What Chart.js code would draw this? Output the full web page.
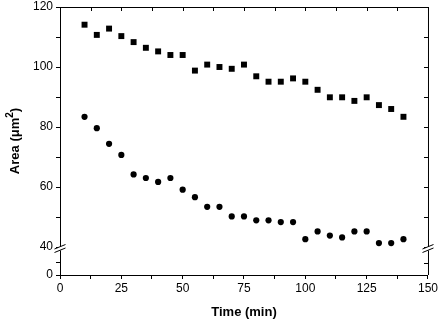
<!DOCTYPE html>
<html>
<head>
<meta charset="utf-8">
<script src="https://cdn.jsdelivr.net/npm/chart.js@4.4.2/dist/chart.umd.min.js"></script>
<style>
  html, body { margin: 0; padding: 0; background: #fff; }
  #wrap { width: 442px; height: 322px; }
</style>
</head>
<body>
<div id="wrap"><canvas id="chart"></canvas></div>
<script>
const times = [10, 15, 20, 25, 30, 35, 40, 45, 50, 55, 60, 65, 70, 75, 80, 85, 90, 95, 100, 105, 110, 115, 120, 125, 130, 135, 140];
const squareArea = [114.1, 110.7, 112.8, 110.3, 108.3, 106.4, 105.2, 104.0, 104.0, 98.8, 100.8, 100.0, 99.4, 100.8, 96.9, 95.1, 95.1, 96.2, 95.1, 92.4, 89.9, 89.9, 88.7, 89.9, 87.3, 86.0, 83.4];
const circleArea = [83.4, 79.6, 74.4, 70.7, 64.2, 63.0, 61.7, 63.0, 59.1, 56.6, 53.4, 53.4, 50.2, 50.2, 48.9, 48.9, 48.3, 48.3, 42.6, 45.2, 43.8, 43.2, 45.2, 45.2, 41.3, 41.3, 42.6];

const xTickValues = [0, 12.5, 25, 37.5, 50, 62.5, 75, 87.5, 100, 112.5, 125, 137.5, 150];
const xLabels = [0, 25, 50, 75, 100, 125, 150];
const yTickValues = [40, 50, 60, 70, 80, 90, 100, 110, 120];
const yLabels = [40, 60, 80, 100, 120];
const yLowTickValues = [0, 10];
const yLowLabels = [0];

const FONT = "'Liberation Sans', Arial, sans-serif";
const tickFont = { family: FONT, size: 12, lineHeight: 1 };

const setTicks = (values) => (scale) => {
  scale.ticks = values.map(v => ({ value: v }));
};
const showOnly = (labels) => (v) => labels.includes(v) ? String(v) : '';

const axisGrid = {
  drawOnChartArea: false,
  tickLength: 4,
  color: '#000',
  tickColor: '#000'
};

const framePlugin = {
  id: 'frame',
  afterDraw(chart) {
    const { ctx, chartArea: a, scales } = chart;
    ctx.save();
    ctx.strokeStyle = '#000';
    ctx.lineWidth = 1;
    // top and right border
    ctx.beginPath();
    ctx.moveTo(a.left, a.top + 0.5);
    ctx.lineTo(a.right + 0.5, a.top + 0.5);
    ctx.lineTo(a.right + 0.5, a.bottom);
    ctx.stroke();
    // inward ticks on the top and right
    ctx.beginPath();
    xTickValues.forEach(v => {
      const px = Math.round(scales.x.getPixelForValue(v)) + 0.5;
      ctx.moveTo(px, a.top);
      ctx.lineTo(px, a.top + 4);
    });
    yTickValues.forEach(v => {
      const py = Math.round(scales.y.getPixelForValue(v)) + 0.5;
      ctx.moveTo(a.right, py);
      ctx.lineTo(a.right - 4, py);
    });
    yLowTickValues.forEach(v => {
      const py = Math.round(scales.y2.getPixelForValue(v)) + 0.5;
      ctx.moveTo(a.right, py);
      ctx.lineTo(a.right - 4, py);
    });
    ctx.stroke();
    // axis break marks
    const yb = scales.y.bottom + 1.5;
    [a.left, a.right].forEach(x => {
      ctx.fillStyle = '#fff';
      ctx.fillRect(x - 2, yb - 2, 4, 4);
      ctx.beginPath();
      ctx.moveTo(x - 5.5, yb + 0.5);
      ctx.lineTo(x + 5.5, yb - 4);
      ctx.moveTo(x - 5.5, yb + 4);
      ctx.lineTo(x + 5.5, yb - 0.5);
      ctx.stroke();
    });
    // y axis title with superscript
    ctx.fillStyle = '#000';
    ctx.translate(15, (a.top + a.bottom) / 2);
    ctx.rotate(-Math.PI / 2);
    ctx.textBaseline = 'middle';
    const main = 'Area (\u03bcm';
    ctx.font = 'bold 13px ' + FONT;
    const wMain = ctx.measureText(main).width;
    ctx.font = 'bold 10px ' + FONT;
    const wSup = ctx.measureText('2').width;
    ctx.font = 'bold 13px ' + FONT;
    const wEnd = ctx.measureText(')').width;
    let x0 = -(wMain + wSup + wEnd) / 2;
    ctx.textAlign = 'left';
    ctx.fillText(main, x0, 0);
    ctx.font = 'bold 10px ' + FONT;
    ctx.fillText('2', x0 + wMain, -5);
    ctx.font = 'bold 13px ' + FONT;
    ctx.fillText(')', x0 + wMain + wSup, 0);
    ctx.restore();
  }
};

new Chart(document.getElementById('chart'), {
  type: 'scatter',
  data: {
    datasets: [{
      label: 'squares',
      data: times.map((t, i) => ({ x: t, y: squareArea[i] })),
      pointStyle: 'rect',
      pointRadius: 4.2,
      backgroundColor: '#000',
      borderWidth: 0,
      yAxisID: 'y'
    }, {
      label: 'circles',
      data: times.map((t, i) => ({ x: t, y: circleArea[i] })),
      pointStyle: 'circle',
      pointRadius: 3.1,
      backgroundColor: '#000',
      borderWidth: 0,
      yAxisID: 'y'
    }]
  },
  options: {
    responsive: true,
    maintainAspectRatio: false,
    animation: false,
    layout: {
      padding: { left: 2, right: 13, top: 7, bottom: 0 }
    },
    plugins: {
      legend: { display: false },
      tooltip: { enabled: false }
    },
    scales: {
      x: {
        type: 'linear',
        min: 0,
        max: 150,
        afterBuildTicks: setTicks(xTickValues),
        afterFit: (s) => { s.height = 47; },
        ticks: { autoSkip: false, maxRotation: 0, padding: 4, color: '#000', font: tickFont, callback: showOnly(xLabels) },
        grid: axisGrid,
        border: { color: '#000', width: 1 },
        title: {
          display: true,
          text: 'Time (min)',
          color: '#000',
          font: { family: FONT, size: 13, weight: 'bold' },
          padding: { top: 4, bottom: 2 }
        }
      },
      y: {
        type: 'linear',
        position: 'left',
        stack: 'area',
        stackWeight: 240,
        weight: 2,
        min: 40,
        max: 120,
        afterBuildTicks: setTicks(yTickValues),
        afterFit: (s) => { s.width = 58; s.paddingTop = 0; s.paddingBottom = 0; },
        ticks: { autoSkip: false, padding: 3, color: '#000', font: tickFont, callback: showOnly(yLabels) },
        grid: axisGrid,
        border: { color: '#000', width: 1 }
      },
      y2: {
        type: 'linear',
        position: 'left',
        stack: 'area',
        stackWeight: 28,
        weight: 1,
        min: 0,
        max: 23,
        afterBuildTicks: setTicks(yLowTickValues),
        afterFit: (s) => { s.width = 58; s.paddingTop = 0; s.paddingBottom = 0; },
        ticks: { autoSkip: false, padding: 3, color: '#000', font: tickFont, callback: showOnly(yLowLabels) },
        grid: axisGrid,
        border: { color: '#000', width: 1 }
      }
    }
  },
  plugins: [framePlugin]
});
</script>
</body>
</html>
